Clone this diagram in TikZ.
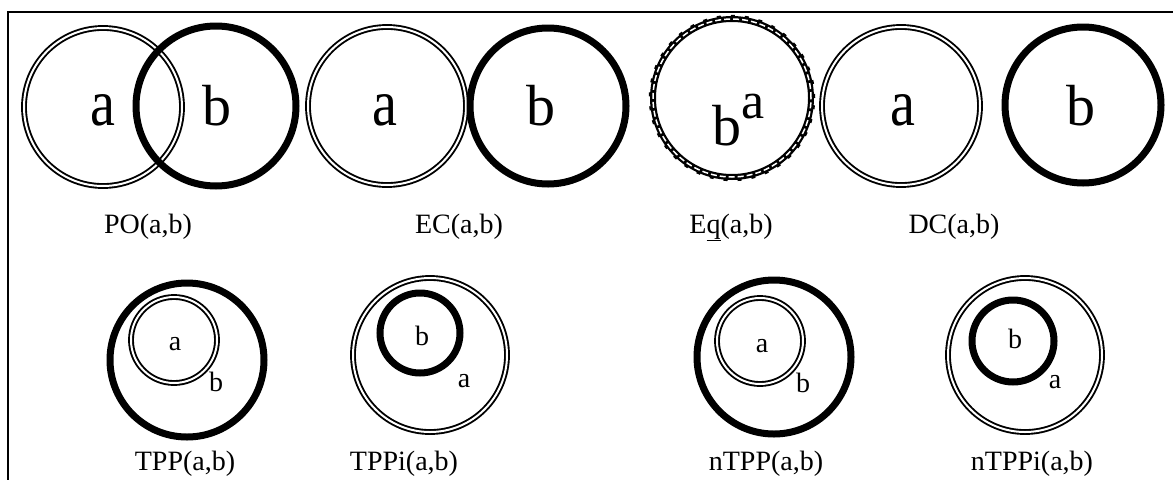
\documentclass[tikz,border=0pt]{standalone}
\usepackage{graphicx}
\usepackage{fontspec}
\setmainfont{Liberation Serif}
\begin{document}
\begin{tikzpicture}[x=1pt,y=-1pt,
  ring/.style={circle, inner sep=0pt, outer sep=0pt, minimum size=#1},
  dbl/.style={draw=black, double=white, line width=1.9pt, double distance=2pt},
  thk/.style={draw=black, line width=7pt},
  bigA/.style={anchor=base, inner sep=0pt, font=\fontsize{66}{66}\selectfont},
  bigB/.style={anchor=base, inner sep=0pt, font=\fontsize{58}{58}\selectfont},
  sml/.style={anchor=base, inner sep=0pt, font=\fontsize{28}{28}\selectfont},
  lbl/.style={anchor=base, inner sep=0pt, font=\fontsize{28}{28}\selectfont}]
\useasboundingbox (0,0) rectangle (1173,480);
% frame
\coordinate (fTR) at (1173,12);
\coordinate (fTL) at (8,12);
\coordinate (fBL) at (8,480);
\draw[line width=2pt] (fTR) -- (fTL) -- (fBL);

% ---------- PO ----------
\node[ring=158pt, dbl] (poA) at (103,107) {};
\node[ring=160pt, thk] (poB) at (216,106) {};
\node[bigA] (poa) at (103,125) {\scalebox{0.85}[1]{a}};
\node[bigB] (pob) at (217,125) {b};
\node[lbl] (poL) at (148,233) {PO(a,b)};

% ---------- EC ----------
\node[ring=158pt, dbl] (ecA) at (387,106) {};
\node[ring=156pt, thk] (ecB) at (548,106) {};
\node[bigA] (eca) at (385,125) {\scalebox{0.85}[1]{a}};
\node[bigB] (ecb) at (541,125) {b};
\node[lbl] (ecL) at (459,233) {EC(a,b)};

% ---------- Eq ----------
\node[ring=158pt, draw=black, line width=6pt] (eqC) at (732,98) {};
\node[ring=158pt, draw=white, line width=1.5pt, dash pattern=on 6pt off 3pt] (eqW) at (eqC) {};
\node[ring=164pt, draw=black, line width=2.5pt, dash pattern=on 4pt off 10pt] (eqD) at (eqC) {};
\node[bigB] (eqb) at (727,145) {b};
\node[bigB, font=\fontsize{52}{52}\selectfont] (eqa) at (753,118) {a};
\node[lbl] (eqL) at (731,233) {E\underline{q}(a,b)};

% ---------- DC ----------
\node[ring=158pt, dbl] (dcA) at (901,106) {};
\node[ring=156pt, thk] (dcB) at (1083,105) {};
\node[bigA] (dca) at (903,125) {\scalebox{0.85}[1]{a}};
\node[bigB] (dcb) at (1081,125) {b};
\node[lbl] (dcL) at (954,233) {DC(a,b)};

% ---------- TPP ----------
\node[ring=154pt, thk] (tppO) at (187,360) {};
\node[ring=86pt, dbl] (tppI) at (174,340) {};
\node[sml] (tppa) at (175,350) {a};
\node[sml] (tppb) at (216,391) {b};
\node[lbl] (tppL) at (185,470) {TPP(a,b)};

% ---------- TPPi ----------
\node[ring=154pt, dbl] (tpiO) at (430,355) {};
\node[ring=80pt, thk] (tpiI) at (420,333) {};
\node[sml] (tpib) at (422,345) {b};
\node[sml] (tpia) at (464,387) {a};
\node[lbl] (tpiL) at (404,470) {TPPi(a,b)};

% ---------- nTPP ----------
\node[ring=154pt, thk] (ntpO) at (774,357) {};
\node[ring=86pt, dbl] (ntpI) at (760,341) {};
\node[sml] (ntpa) at (762,352) {a};
\node[sml] (ntpb) at (803,392) {b};
\node[lbl] (ntpL) at (766,470) {nTPP(a,b)};

% ---------- nTPPi ----------
\node[ring=154pt, dbl] (ntiO) at (1025,355) {};
\node[ring=82pt, thk] (ntiI) at (1013,341) {};
\node[sml] (ntib) at (1015,348) {b};
\node[sml] (ntia) at (1055,388) {a};
\node[lbl] (ntiL) at (1032,470) {nTPPi(a,b)};
\end{tikzpicture}
\end{document}
